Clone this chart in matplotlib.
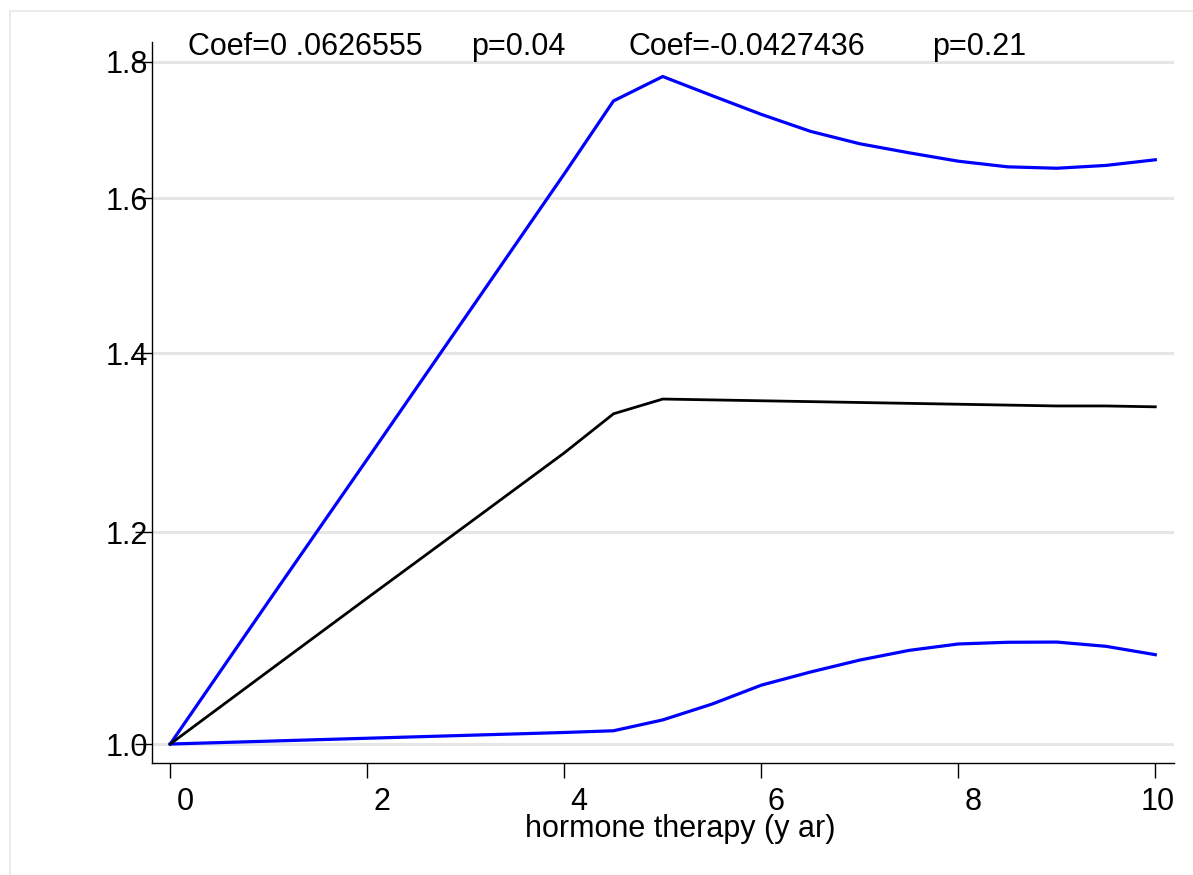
import matplotlib
matplotlib.use("Agg")
import matplotlib.pyplot as plt
import matplotlib.transforms as mtransforms
from matplotlib.lines import Line2D

# ---- data ----
years = [0, 1, 2, 3, 4, 4.5, 5.0, 5.5, 6.0, 6.5, 7.0, 7.5, 8.0, 8.5, 9.0, 9.5, 10]
hr_est = [1.0, 1.065, 1.134, 1.207, 1.285, 1.329, 1.346, 1.345, 1.344, 1.343,
          1.342, 1.341, 1.340, 1.339, 1.338, 1.338, 1.337]
hr_upper = [1.0, 1.131, 1.278, 1.445, 1.634, 1.740, 1.777, 1.748, 1.720, 1.695,
            1.677, 1.664, 1.652, 1.644, 1.642, 1.646, 1.654]
hr_lower = [1.0, 1.0025, 1.005, 1.0075, 1.010, 1.0115, 1.021, 1.035, 1.052, 1.064,
            1.075, 1.084, 1.090, 1.0916, 1.0918, 1.0878, 1.080]

x_ticks = [0, 2, 4, 6, 8, 10]
x_ticklabels = ["0", "2", "4", "6", "8", "10"]
y_ticks = [1.0, 1.2, 1.4, 1.6, 1.8]
y_ticklabels = ["1.0", "1.2", "1.4", "1.6", "1.8"]
x_title = "hormone therapy (y ar)"
annotations = ["Coef=0 .0626555", "p=0.04", "Coef=-0.0427436", "p=0.21"]

# ---- styling ----
plt.rcParams["font.family"] = ["Liberation Sans", "DejaVu Sans"]
FS = 22
W, H, DPI = 1193, 875, 100
fig = plt.figure(figsize=(W / DPI, H / DPI), dpi=DPI, facecolor="white")

def px(x, y):
    return x / W, 1 - y / H

l, t = px(151.5, 42)
r, b = px(1174, 763)
ax = fig.add_axes([l, b, r - l, t - b])
ax.set_yscale("log")

ax.plot(years, hr_upper, color="#0000ff", lw=2.3, solid_joinstyle="miter", zorder=3)
ax.plot(years, hr_lower, color="#0000ff", lw=2.3, solid_joinstyle="miter", zorder=3)
ax.plot(years, hr_est, color="black", lw=2.0, solid_joinstyle="miter", zorder=3)

ax.set_xlim(-0.19, 10.19)
ax.set_ylim(0.9838, 1.8306)
ax.set_xticks(x_ticks)
ax.set_xticklabels(x_ticklabels, fontsize=FS)
ax.set_yticks(y_ticks)
ax.set_yticklabels(y_ticklabels, fontsize=FS)
ax.minorticks_off()
ax.yaxis.set_minor_locator(matplotlib.ticker.NullLocator())

ax.tick_params(axis="x", direction="out", length=11, width=1.0, pad=6, colors="black")
ax.tick_params(axis="y", direction="out", length=12, width=1.0, pad=-9.6, colors="black")

for s in ["top", "right"]:
    ax.spines[s].set_visible(False)
for s in ["left", "bottom"]:
    ax.spines[s].set_linewidth(1.0)
    ax.spines[s].set_color("black")

ax.yaxis.grid(True, color="#e6e6e6", lw=2.2)
ax.xaxis.grid(False)
ax.set_axisbelow(True)

# shift x tick labels slightly right as in the reference rendering
for lab in ax.get_xticklabels():
    dx = 15 if len(lab.get_text()) == 1 else 2
    off = mtransforms.ScaledTranslation(dx / DPI, 0, fig.dpi_scale_trans)
    lab.set_transform(lab.get_transform() + off)

ax.set_xlabel(x_title, fontsize=FS)
ax.xaxis.label.set_verticalalignment("baseline")
ax.xaxis.set_label_coords((680 - 151.5) / (1174 - 151.5), (763 - 837) / (763 - 42))

# top annotations
ann_x = [188, 471, 629, 932]
for txt, xp in zip(annotations, ann_x):
    fx, fy = px(xp, 55)
    fig.text(fx, fy, txt, fontsize=FS, ha="left", va="baseline")

# faint outer frame (top and left edges visible)
frame_col = "#e8e8e8"
fig.add_artist(Line2D([10 / W, 1], [1 - 11 / H, 1 - 11 / H], transform=fig.transFigure,
                      color=frame_col, lw=1.2))
fig.add_artist(Line2D([10 / W, 10 / W], [0, 1 - 11 / H], transform=fig.transFigure,
                      color=frame_col, lw=1.2))

fig.savefig("out.png", dpi=DPI, facecolor="white")
